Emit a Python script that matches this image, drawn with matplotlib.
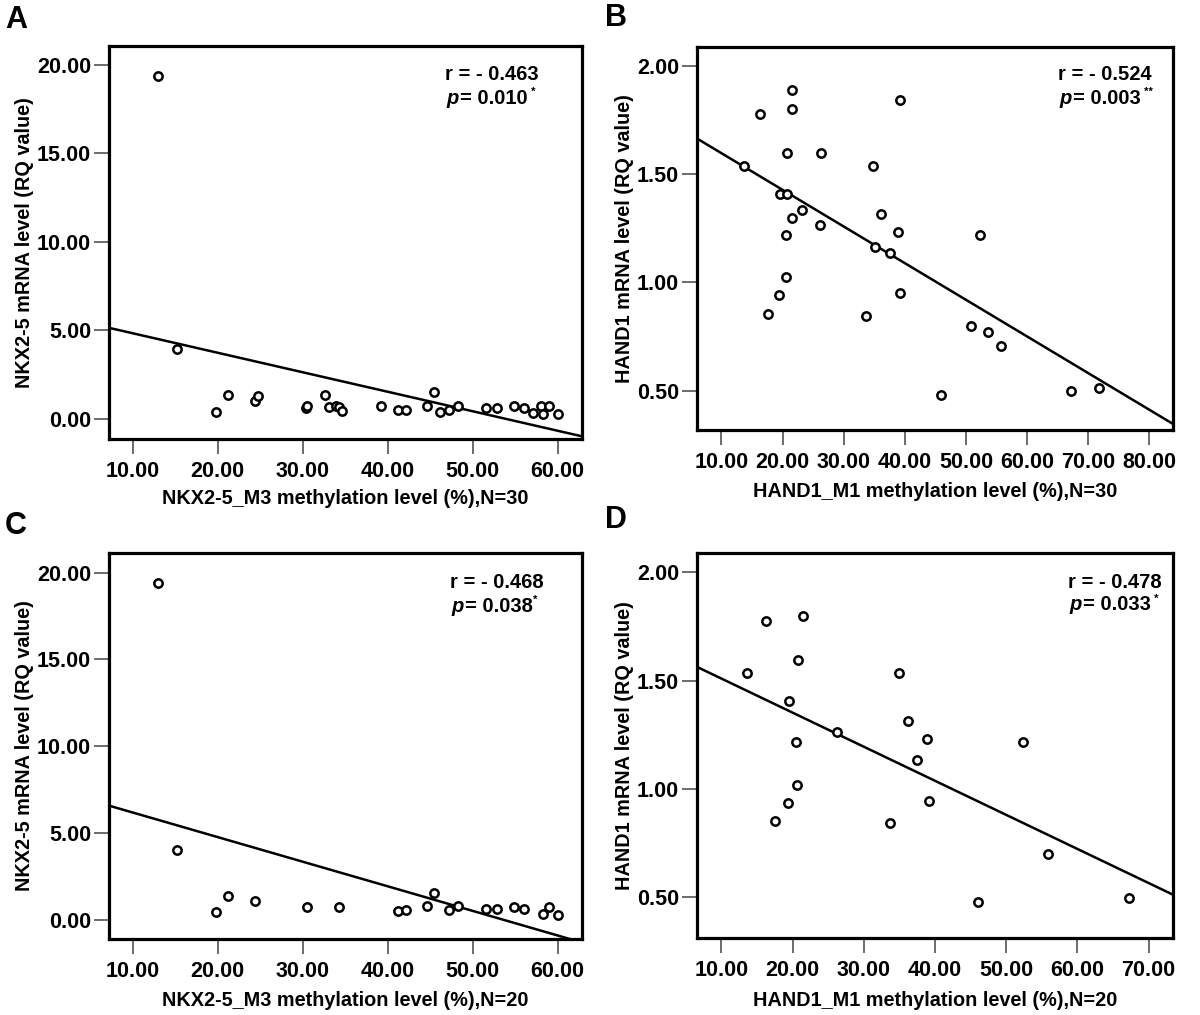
import matplotlib
matplotlib.use("Agg")
import matplotlib.pyplot as plt
import numpy as np

plt.rcParams['font.family'] = ['Liberation Sans', 'DejaVu Sans']
plt.rcParams['font.weight'] = 'bold'

# ---------------- data ----------------
# Panel A: NKX2-5_M3 methylation vs NKX2-5 mRNA, N=30
a_x = [12.97, 15.2, 19.86, 21.16, 24.4, 24.76, 30.39, 30.48, 32.6, 33.1,
       33.9, 34.3, 34.66, 39.25, 41.19, 42.2, 44.65, 45.5, 46.2, 47.17,
       48.3, 51.58, 52.85, 54.9, 56.04, 57.07, 58.06, 58.3, 59.05, 60.0]
a_y = [19.36, 3.96, 0.41, 1.36, 1.04, 1.32, 0.62, 0.75, 1.36, 0.68,
       0.72, 0.68, 0.47, 0.75, 0.49, 0.53, 0.75, 1.53, 0.38, 0.53,
       0.75, 0.60, 0.64, 0.75, 0.64, 0.34, 0.75, 0.28, 0.75, 0.28]
a_fit = (5.944, -0.1101)   # intercept, slope

# Panel B: HAND1_M1 methylation vs HAND1 mRNA, N=30
b_x = [13.69, 16.32, 17.57, 19.44, 19.5, 20.76, 20.5, 20.63, 20.76, 21.5,
       21.5, 21.57, 23.13, 26.2, 26.32, 33.7, 34.83, 35.08, 36.14, 37.52,
       38.9, 39.14, 39.14, 45.9, 50.84, 52.34, 53.53, 55.72, 67.22, 71.79]
b_y = [1.538, 1.777, 0.855, 0.94, 1.409, 1.409, 1.22, 1.023, 1.598, 1.889,
       1.80, 1.298, 1.335, 1.265, 1.598, 0.843, 1.538, 1.166, 1.317, 1.134,
       1.235, 1.842, 0.949, 0.478, 0.798, 1.22, 0.771, 0.706, 0.497, 0.511]
b_fit = (1.7666, -0.016936)

# Panel C: NKX2-5_M3, N=20
c_x = [12.97, 15.2, 19.86, 21.16, 24.45, 30.52, 34.26, 41.19, 42.2, 44.65,
       45.5, 47.17, 48.3, 51.58, 52.85, 54.9, 56.04, 58.3, 59.05, 60.0]
c_y = [19.38, 4.0, 0.44, 1.39, 1.08, 0.77, 0.73, 0.50, 0.58, 0.79,
       1.56, 0.58, 0.79, 0.62, 0.65, 0.77, 0.65, 0.33, 0.77, 0.29]
c_fit = (7.601, -0.1416)

# Panel D: HAND1_M1, N=20
d_x = [13.65, 16.28, 17.57, 19.4, 19.5, 20.47, 20.63, 20.74, 21.49, 26.27,
       33.74, 34.97, 36.15, 37.49, 38.89, 39.16, 45.98, 52.43, 55.86, 67.3]
d_y = [1.536, 1.775, 0.851, 0.936, 1.407, 1.215, 1.019, 1.597, 1.800, 1.264,
       0.840, 1.534, 1.314, 1.133, 1.231, 0.943, 0.475, 1.216, 0.701, 0.494]
d_fit = (1.6662, -0.01573)

nkx_yticks = [0, 5, 10, 15, 20]
nkx_xticks = [10, 20, 30, 40, 50, 60]
hand_yticks = [0.5, 1.0, 1.5, 2.0]
hand_xticks_b = [10, 20, 30, 40, 50, 60, 70, 80]
hand_xticks_d = [10, 20, 30, 40, 50, 60, 70]

panels = [
    dict(letter='A', x=a_x, y=a_y, fit=a_fit, xlim=(7.21, 62.88), ylim=(-1.13, 21.07),
         xticks=nkx_xticks, yticks=nkx_yticks,
         xlabel='NKX2-5_M3 methylation level (%),N=30', ylabel='NKX2-5 mRNA level (RQ value)',
         r='r = - 0.463', p='= 0.010', star=' *',
         rect=(109, 46, 582, 439), letter_pos=(16, 20), text_pos=(445, 74, 98),
         ylab_x=34, xlab_y=498),
    dict(letter='B', x=b_x, y=b_y, fit=b_fit, xlim=(6.0, 83.88), ylim=(0.318, 2.088),
         xticks=hand_xticks_b, yticks=hand_yticks,
         xlabel='HAND1_M1 methylation level (%),N=30', ylabel='HAND1 mRNA level (RQ value)',
         r='r = - 0.524', p='= 0.003', star=' **',
         rect=(697, 47, 1173, 430), letter_pos=(616, 18), text_pos=(1058, 74, 98),
         ylab_x=634, xlab_y=492),
    dict(letter='C', x=c_x, y=c_y, fit=c_fit, xlim=(7.21, 62.88), ylim=(-1.10, 21.13),
         xticks=nkx_xticks, yticks=nkx_yticks,
         xlabel='NKX2-5_M3 methylation level (%),N=20', ylabel='NKX2-5 mRNA level (RQ value)',
         r='r = - 0.468', p='= 0.038', star='*',
         rect=(109, 553, 582, 939), letter_pos=(16, 526), text_pos=(450, 582, 606),
         ylab_x=34, xlab_y=1000),
    dict(letter='D', x=d_x, y=d_y, fit=d_fit, xlim=(6.56, 73.44), ylim=(0.311, 2.089),
         xticks=hand_xticks_d, yticks=hand_yticks,
         xlabel='HAND1_M1 methylation level (%),N=20', ylabel='HAND1 mRNA level (RQ value)',
         r='r = - 0.478', p='= 0.033', star=' *',
         rect=(697, 553, 1173, 938), letter_pos=(616, 520), text_pos=(1068, 582, 605),
         ylab_x=634, xlab_y=1000),
]

W, H = 1200, 1015
fig = plt.figure(figsize=(W / 100, H / 100), dpi=100)
fig.patch.set_facecolor('white')

def fx(px):
    return px / W

def fy(py):
    return 1 - py / H

fs_tick = 15.5
fs_lab = 14.3
fs_txt = 14.5

renderer = fig.canvas.get_renderer()

for P in panels:
    l, t, r, b = P['rect']
    ax = fig.add_axes([fx(l), fy(b), (r - l) / W, (b - t) / H])
    ax.set_xlim(*P['xlim'])
    ax.set_ylim(*P['ylim'])
    ax.scatter(P['x'], P['y'], s=36, facecolors='white', edgecolors='black',
               linewidths=1.8, zorder=3)
    xs = np.array(P['xlim'])
    b0, b1 = P['fit']
    ax.plot(xs, b0 + b1 * xs, color='black', lw=1.8, zorder=2)
    ax.set_xticks(P['xticks'])
    ax.set_yticks(P['yticks'])
    ax.set_xticklabels([f'{v:.2f}' for v in P['xticks']], fontsize=fs_tick, fontweight='bold')
    ax.set_yticklabels([f'{v:.2f}' for v in P['yticks']], fontsize=fs_tick, fontweight='bold')
    ax.tick_params(axis='both', direction='out', length=11, width=1.1, color='#444444')
    ax.tick_params(axis='x', pad=5)
    ax.tick_params(axis='y', pad=2)
    for s in ax.spines.values():
        s.set_linewidth(2.3)
        s.set_color('black')
    ax.set_xlabel(P['xlabel'], fontsize=fs_lab, fontweight='bold')
    ax.set_ylabel(P['ylabel'], fontsize=fs_lab, fontweight='bold')
    ax.xaxis.set_label_coords(0.5, -(P['xlab_y'] - b) / (b - t))
    ax.xaxis.label.set_va('center')
    ax.yaxis.set_label_coords((P['ylab_x'] - l) / (r - l), 0.5)

    # panel letter
    fig.text(fx(P['letter_pos'][0]), fy(P['letter_pos'][1]), P['letter'],
             fontsize=22, fontweight='heavy', ha='center', va='center')

    # statistics text
    x0, y1, y2 = P['text_pos']
    fig.text(fx(x0), fy(y1), P['r'], fontsize=fs_txt, fontweight='bold', ha='left', va='center')
    tp = fig.text(fx(x0 + 1), fy(y2), 'p', fontsize=fs_txt, fontweight='bold',
                  fontstyle='italic', ha='left', va='center')
    wp = tp.get_window_extent(renderer).width
    te = fig.text(fx(x0 + 1 + wp + 2), fy(y2), P['p'], fontsize=fs_txt, fontweight='bold',
                  ha='left', va='center')
    we = te.get_window_extent(renderer).width
    fig.text(fx(x0 + 3 + wp + we), fy(y2 - 6), P['star'], fontsize=8, fontweight='bold',
             ha='left', va='center')

fig.savefig('out.png', dpi=100, facecolor='white')
